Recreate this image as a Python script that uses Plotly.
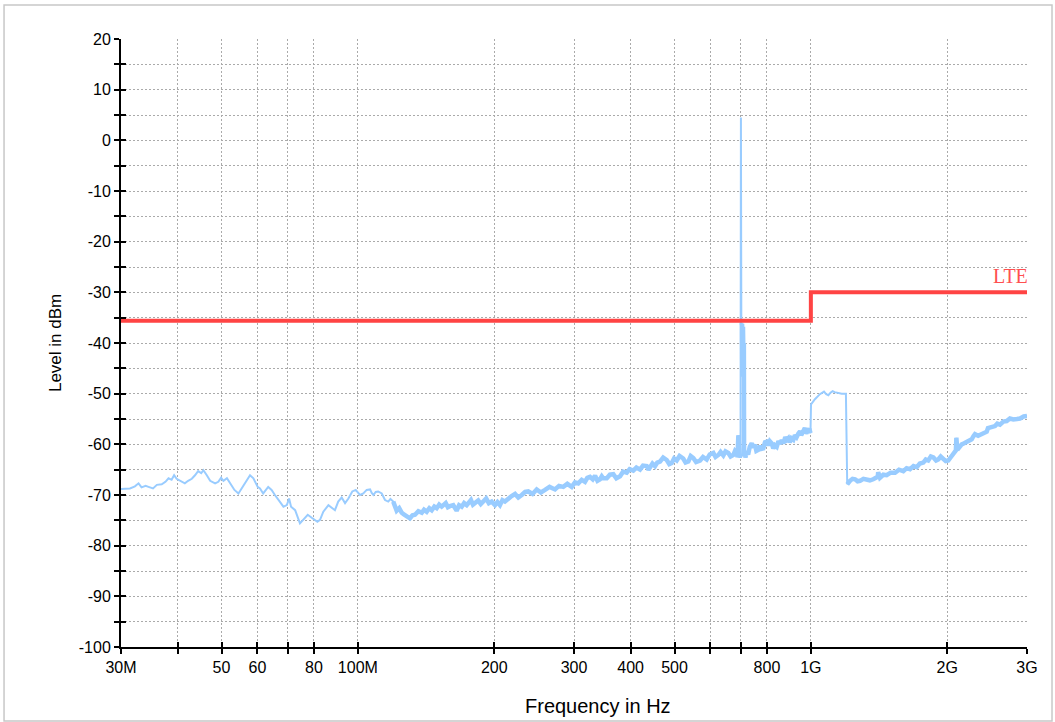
import plotly.graph_objects as go

# Measured spectrum: frequency in MHz, level in dBm
freq_mhz = [
    30.0, 31.4, 32.2, 32.8, 33.3, 34.0, 34.5, 35.3, 36.0, 36.9, 37.6, 38.2, 38.8, 39.3, 39.8,
    40.8, 41.5, 42.2, 43.0, 43.7, 44.4, 45.1, 45.6, 46.4, 47.2, 48.4, 49.2, 49.9, 50.5, 51.4,
    52.2, 52.7, 53.4, 54.5, 55.4, 56.8, 57.8, 58.8, 60.1, 60.8, 61.8, 63.4, 64.5, 65.6, 67.3,
    68.5, 69.7, 70.5, 71.2, 72.7, 74.5, 75.8, 77.5, 79.1, 80.4, 81.4, 82.5, 83.9, 86.1, 87.6,
    89.0, 90.5, 92.1, 93.7, 95.3, 97.2, 98.9, 101.1, 102.8,
    104.6, 106.4, 107.3, 108.2, 109.5, 110.9, 112.9, 114.8, 116.7, 118.0, 119.7, 121.8, 123.4,
    125.0, 126.6, 128.2, 130.3, 132.0, 133.7, 136.0, 138.4, 140.0, 141.9, 143.8, 145.6, 147.5,
    149.3, 151.2, 153.1, 156.3, 158.0, 159.7, 162.4, 165.2, 167.3, 169.5, 171.6, 173.9, 175.8,
    177.7, 179.5, 181.4, 184.4, 186.8, 189.2, 192.0, 194.6, 197.4, 200.8, 203.3, 205.9, 208.5,
    211.2, 214.8, 218.5, 222.3, 226.0, 230.0, 234.0, 237.8, 243.0, 248.2, 253.5, 258.9, 265.0,
    272.4, 278.0, 284.1, 290.0, 296.5, 301.5, 306.6, 312.0, 317.2, 321.0, 325.4, 330.0, 333.9,
    338.0, 342.3, 345.5, 348.3,
    354.4, 360.0, 366.4, 372.0, 379.1, 385.0, 392.2, 398.0, 405.5, 412.0, 419.6, 426.0, 434.1,
    438.0, 441.5, 447.0, 452.9, 458.0, 464.5, 472.0, 480.6, 487.0, 493.0, 499.0, 505.7, 513.0,
    522.7, 529.0, 536.4, 543.0, 550.2, 558.0, 569.2, 578.0, 588.9, 598.0, 609.1, 616.0, 624.9,
    632.0, 640.9, 648.0, 657.3, 665.0, 674.4, 680.0, 686.2, 689.0, 691.7, 693.5, 697.0, 699.5,
    700.8, 701.8, 702.6, 703.4, 704.2, 705.0, 705.8, 706.6, 707.4, 708.2, 709.0, 709.8, 710.6,
    711.4, 712.2, 714.0, 717.0, 721.7, 727.0, 733.0, 740.2, 746.0, 752.6, 758.0, 765.3, 772.0,
    778.0, 785.2, 792.0, 798.9, 806.0, 812.0, 819.6, 826.0, 833.0, 840.6, 848.0, 855.0, 862.3,
    870.0, 878.0, 885.0, 891.7, 898.0, 906.0, 914.8, 922.0, 930.0, 938.2, 946.6, 952.0, 962.4,
    970.0, 977.0, 987.1, 992.0, 998.0,
    1000.8, 1021, 1047, 1069, 1081, 1093, 1105, 1117, 1128, 1140, 1155, 1170, 1195,
    1203, 1210, 1220, 1236, 1252, 1268, 1284, 1306, 1328, 1350, 1373, 1395, 1405, 1408, 1412,
    1421, 1445, 1470, 1500, 1534, 1565, 1600, 1627, 1655, 1685, 1713, 1740, 1771, 1793, 1816,
    1840, 1864, 1890, 1911, 1935, 1960, 1985, 2011, 2030, 2046, 2090, 2095, 2105, 2130, 2153,
    2180, 2208, 2235, 2265, 2285, 2303, 2340, 2383, 2410, 2445, 2460, 2486, 2515, 2550, 2580,
    2615, 2660, 2706, 2750, 2798, 2850, 2895, 2950, 3000,
]
level_dbm = [
    -68.8, -68.7, -68.3, -67.7, -68.5, -68.2, -68.4, -68.7, -68.0, -67.9, -67.4, -66.7, -67.0, -66.1, -66.8,
    -67.4, -67.7, -67.2, -66.8, -66.1, -65.3, -65.7, -65.1, -66.1, -67.2, -67.7, -67.4, -66.6, -67.2, -66.7,
    -67.7, -68.4, -69.0, -69.7, -68.7, -67.0, -66.1, -66.7, -68.4, -68.7, -69.7, -68.4, -69.0, -70.0, -71.3,
    -72.3, -72.0, -70.7, -72.3, -73.0, -75.6, -74.9, -73.9, -74.5, -74.9, -75.3, -74.9, -73.3, -72.0, -72.6,
    -73.0, -71.3, -70.5, -71.6, -70.7, -69.3, -69.0, -70.0, -69.7,
    -69.0, -68.9, -69.6, -70.0, -69.4, -69.3, -69.7, -71.0, -71.3, -70.8, -71.3, -73.1, -72.6,
    -73.5, -73.9, -74.3, -74.6, -74.0, -73.9, -73.2, -73.5, -72.9, -73.3, -72.6, -73.0, -72.3,
    -72.6, -71.9, -72.3, -71.6, -72.4, -72.2, -72.0, -73.1, -72.0, -72.3, -71.6, -72.0, -71.3,
    -71.0, -71.9, -71.6, -71.1, -71.8, -71.3, -70.7, -71.6, -71.3, -72.0, -71.4, -72.0, -71.0,
    -71.3, -70.7, -70.2, -69.8, -70.5, -70.0, -69.4, -69.3, -69.8, -68.9, -69.5, -69.0, -68.4,
    -68.9, -68.2, -68.4, -67.8, -68.4, -67.5, -67.7, -67.0, -67.4, -66.6, -66.4, -66.9, -66.2,
    -67.2, -66.9, -66.3, -66.7,
    -66.7, -66.0, -65.9, -66.7, -66.3, -65.4, -65.6, -64.9, -65.2, -64.6, -65.0, -64.2, -64.3,
    -65.0, -64.6, -63.8, -64.3, -63.6, -63.4, -62.6, -63.1, -63.9, -63.7, -62.8, -63.2, -62.3,
    -62.8, -63.6, -63.4, -62.3, -62.7, -63.5, -63.2, -62.5, -63.0, -62.0, -61.7, -62.5, -62.1,
    -61.5, -62.2, -61.4, -61.7, -62.4, -62.1, -61.3, -61.7, -62.5, -58.2, -62.3, -62.6, -61.8,
    4.5, -36.5, -46.0, -37.0, -45.5, -36.2, -46.6, -38.0, -45.0, -36.8, -44.0, -37.5, -46.5,
    -40.0, -62.4, -61.6, -62.6, -61.4, -62.0, -60.5, -59.8, -60.6, -60.1, -61.3, -61.1, -60.3,
    -60.9, -60.8, -59.6, -59.5, -60.2, -59.4, -59.8, -60.8, -60.2, -60.5, -59.4, -59.9, -59.2,
    -59.8, -58.6, -59.1, -58.8, -59.6, -58.8, -59.1, -58.2, -58.6, -57.9, -57.4, -58.2, -57.5,
    -56.8, -57.8, -57.4, -56.9, -57.8,
    -52.1, -51.1, -50.1, -49.6, -50.1, -50.3, -49.8, -49.5, -49.7, -49.8, -49.9, -50.0, -50.0,
    -67.9, -67.4, -67.2, -66.8, -66.9, -67.3, -67.2, -66.8, -66.9, -67.1, -66.9, -66.6, -66.4, -65.5, -66.4,
    -66.6, -66.0, -66.1, -65.6, -65.6, -65.0, -65.3, -64.7, -64.9, -64.3, -64.5, -63.8, -63.6, -63.0, -63.2,
    -62.4, -62.6, -63.2, -63.0, -62.4, -62.8, -63.3, -63.2, -62.6, -62.3, -61.2, -58.7, -61.1, -60.6, -60.0,
    -59.8, -59.5, -59.3, -59.0, -58.4, -58.0, -58.3, -58.0, -57.6, -57.5, -56.8, -56.7, -56.6, -56.4, -55.9,
    -56.1, -55.5, -55.4, -54.9, -55.1, -55.0, -54.9, -54.5, -54.4,
]

# LTE limit line (step at 1 GHz)
limit_freq_mhz = [30, 1000, 3000]
limit_dbm = [-35.6, -30, -30]
limit_name = "LTE"

# Axis ticks
x_tickvals = [30, 40, 50, 60, 70, 80, 100, 200, 300, 400, 500, 600, 700, 800, 1000, 2000, 3000]
x_ticktext = ["30M", "", "50", "60", "", "80", "100M", "200", "300", "400", "500", "", "", "800", "1G", "2G", "3G"]
y_tickvals = list(range(-100, 25, 5))
y_ticktext = [str(v) if v % 10 == 0 else "" for v in y_tickvals]

FONT = "Liberation Sans, Arial, sans-serif"
X_RANGE = [1.4771212547, 3.4771212547]  # log10(30) .. log10(3000)
Y_RANGE = [-100, 20]
TRACE_BLUE = "#99ccff"

# frequency spans (MHz) where the sweep is noisy and is drawn as a wider band
noisy_spans = [(119.0, 699.6), (701.5, 999.0), (1202.0, 3001.0)]

fig = go.Figure()
fig.add_trace(go.Scatter(
    x=freq_mhz, y=level_dbm, mode="lines",
    line=dict(color=TRACE_BLUE, width=2), showlegend=False, hoverinfo="skip",
))
for lo, hi in noisy_spans:
    seg = [(f, v) for f, v in zip(freq_mhz, level_dbm) if lo <= f <= hi]
    fig.add_trace(go.Scatter(
        x=[p[0] for p in seg], y=[p[1] for p in seg], mode="lines",
        line=dict(color=TRACE_BLUE, width=4.5), showlegend=False, hoverinfo="skip",
    ))
fig.add_trace(go.Scatter(
    x=limit_freq_mhz, y=limit_dbm, mode="lines", line_shape="hv",
    line=dict(color="#ff4444", width=4), showlegend=False, hoverinfo="skip",
))
# empty trace that attaches the overlay axes (inner half of the crossing ticks)
fig.add_trace(go.Scatter(x=[], y=[], xaxis="x2", yaxis="y2", showlegend=False, hoverinfo="skip"))

common_x = dict(type="log", range=X_RANGE, tickvals=x_tickvals, tickcolor="black", tickwidth=2, ticklen=5)
common_y = dict(range=Y_RANGE, tickvals=y_tickvals, tickcolor="black", tickwidth=2, ticklen=5)
grid = dict(showgrid=True, gridcolor="#aaaaaa", griddash="2px,2px", gridwidth=1.2)

fig.update_layout(
    width=1055, height=722,
    margin=dict(l=121, r=28, t=39, b=75),
    paper_bgcolor="white", plot_bgcolor="white",
    font=dict(family=FONT, color="black", size=16),
    xaxis=dict(
        **common_x, **grid, ticktext=x_ticktext, ticks="outside",
        showline=True, linecolor="black", linewidth=2,
        zeroline=False, tickfont=dict(size=16),
    ),
    yaxis=dict(
        **common_y, **grid, ticktext=y_ticktext, ticks="outside",
        showline=True, linecolor="black", linewidth=2,
        zeroline=False, tickfont=dict(size=16),
    ),
    xaxis2=dict(
        **common_x, overlaying="x", anchor="y2", side="bottom", ticks="inside",
        showticklabels=False, showgrid=False, showline=False, zeroline=False,
    ),
    yaxis2=dict(
        **common_y, overlaying="y", anchor="x2", side="left", ticks="inside",
        showticklabels=False, showgrid=False, showline=False, zeroline=False,
    ),
    annotations=[
        dict(text="Frequency in Hz", xref="paper", yref="paper", x=0.5265, y=-0.097,
             xanchor="center", yanchor="middle", showarrow=False,
             font=dict(size=20, family=FONT, color="black")),
        dict(text="Level in dBm", xref="paper", yref="paper", x=-0.0728, y=0.5,
             xanchor="center", yanchor="middle", textangle=-90, showarrow=False,
             font=dict(size=17, family=FONT, color="black")),
        dict(text=limit_name, xref="paper", yref="y", x=1.0033, y=limit_dbm[-1] + 0.7,
             xanchor="right", yanchor="bottom", showarrow=False,
             font=dict(size=20, family="Liberation Serif, Times New Roman, serif", color="#ff5050")),
    ],
    shapes=[
        dict(type="rect", xref="paper", yref="paper", x0=-0.1291, x1=1.0276, y0=-0.1217, y1=1.0559,
             line=dict(color="#c8c8c8", width=1.5), fillcolor="rgba(0,0,0,0)", layer="below"),
    ],
)

fig.write_html("out.html")
